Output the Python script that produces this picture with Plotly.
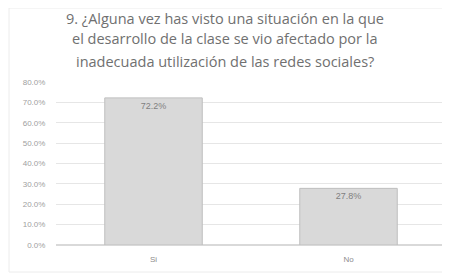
import plotly.graph_objects as go

categories = ["Si", "No"]
values = [0.722, 0.278]
value_labels = ["72.2%", "27.8%"]
y_ticks = [0, 0.1, 0.2, 0.3, 0.4, 0.5, 0.6, 0.7, 0.8]
y_tick_labels = ["0.0%", "10.0%", "20.0%", "30.0%", "40.0%", "50.0%", "60.0%", "70.0%", "80.0%"]
title_lines = ["9. ¿Alguna vez has visto una situación en la que",
               "el desarrollo de la clase se vio afectado por la",
               "inadecuada utilización de las redes sociales?"]

# page has an 8px body margin, so the figure is 442x267
W, H = 442, 267
L, R, T, B = 48, 4, 74, 30
ph = H - T - B

fig = go.Figure()
fig.add_trace(go.Bar(
    x=categories, y=values,
    text=value_labels, textposition="inside", insidetextanchor="end",
    textfont=dict(size=9, color="#7f7f7f", family="Liberation Sans"),
    marker=dict(color="#d9d9d9", line=dict(color="#bfbfbf", width=1)),
    hoverinfo="skip",
))

title_y_px = [10, 31, 53]
annotations = []
for line, ypx in zip(title_lines, title_y_px):
    annotations.append(dict(
        text=line, xref="paper", yref="paper",
        x=(225 - 8 - L) / (W - L - R), y=(H - B - ypx) / ph,
        xanchor="center", yanchor="middle", showarrow=False,
        font=dict(size=14.5, color="#707070", family="Open Sans"),
    ))

fig.update_layout(
    width=W, height=H,
    margin=dict(l=L, r=R, t=T, b=B),
    paper_bgcolor="white", plot_bgcolor="white",
    bargap=0.5,
    showlegend=False,
    annotations=annotations,
    xaxis=dict(showgrid=False, showline=False, ticks="outside", ticklen=6,
               tickcolor="white",
               tickfont=dict(size=8, color="#8c8c8c", family="Liberation Sans")),
    yaxis=dict(range=[0, 0.8], tickvals=y_ticks, ticktext=y_tick_labels,
               showgrid=True, gridcolor="#e6e6e6", gridwidth=1,
               zeroline=True, zerolinecolor="#d9d9d9", showline=False,
               tickfont=dict(size=8, color="#a0a0a0", family="Liberation Sans"),
               ticklen=8, tickcolor="white", ticks="outside"),
    shapes=[dict(type="rect", xref="paper", yref="paper",
                 x0=-(L - 1) / (W - L - R), x1=1.0,
                 y0=-(B - 3) / ph, y1=(H - B) / ph,
                 line=dict(color="#ececec", width=1))],
)

fig.write_html("out.html")
